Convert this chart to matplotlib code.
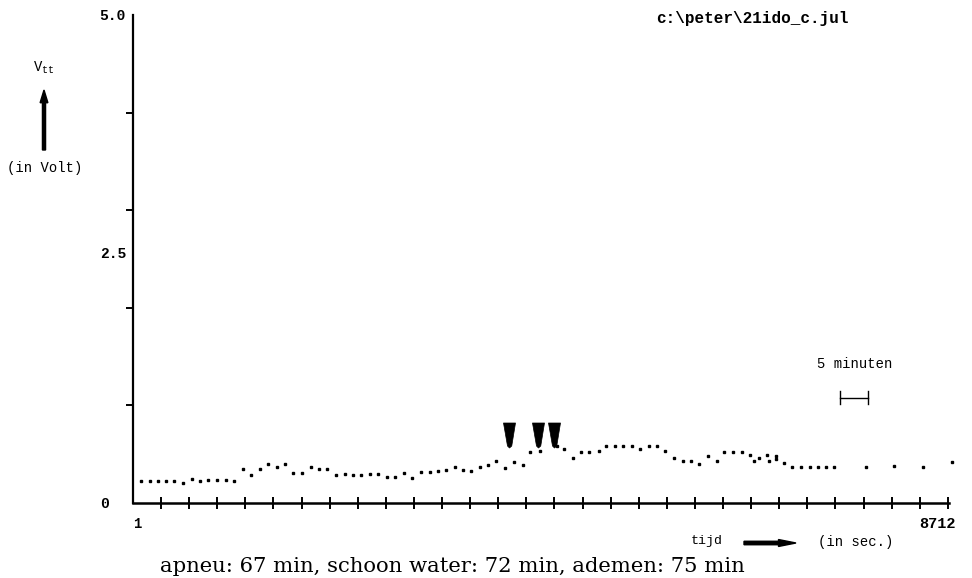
import numpy as np
import matplotlib
matplotlib.use("Agg")
import matplotlib.pyplot as plt
from matplotlib.path import Path
from matplotlib.transforms import ScaledTranslation

# Measured voltage (V) against time (s)
time_s = [90, 179, 265, 356, 442, 535, 628, 719, 805, 898, 991, 1079, 1175, 1264,
          1357, 1442, 1535, 1627, 1712, 1805, 1898, 1983, 2075, 2168, 2267, 2346,
          2438, 2531, 2616, 2709, 2801, 2894, 2983, 3075, 3168, 3254, 3339, 3438,
          3524, 3609, 3702, 3794, 3879, 3972, 4065, 4164, 4242, 4343, 4524, 4602,
          4695, 4780, 4872, 4972, 5050, 5143, 5235, 5328, 5413, 5506, 5598, 5683,
          5776, 5869, 5954, 6046, 6136, 6232, 6313, 6409, 6499, 6587, 6630, 6684,
          6774, 6794, 6865, 6866, 6950, 7039, 7132, 7223, 7313, 7404, 7484, 7826,
          8125, 8437, 8741]
volt = [0.225, 0.225, 0.225, 0.225, 0.225, 0.208, 0.243, 0.225, 0.239, 0.239, 0.239,
        0.222, 0.351, 0.290, 0.351, 0.400, 0.366, 0.400, 0.304, 0.304, 0.366, 0.348,
        0.348, 0.284, 0.300, 0.287, 0.284, 0.297, 0.300, 0.269, 0.269, 0.304, 0.256,
        0.318, 0.318, 0.328, 0.338, 0.369, 0.338, 0.328, 0.369, 0.394, 0.430, 0.359,
        0.415, 0.389, 0.519, 0.533, 0.579, 0.553, 0.458, 0.519, 0.519, 0.533, 0.587,
        0.587, 0.587, 0.587, 0.553, 0.587, 0.587, 0.536, 0.464, 0.430, 0.430, 0.400,
        0.485, 0.430, 0.526, 0.526, 0.526, 0.487, 0.430, 0.464, 0.487, 0.430, 0.485,
        0.450, 0.407, 0.372, 0.372, 0.372, 0.372, 0.372, 0.372, 0.369, 0.382, 0.366,
        0.415]

# Events (minutes): apneu, schoon water, ademen
event_min = [67, 72, 75]
caption = "apneu: 67 min, schoon water: 72 min, ademen: 75 min"

t_start, t_end = 1, 8712
v_max = 5.0
ytick_labels = ["0", "2.5", "5.0"]
xtick_step = 300          # seconds between tick crosses
scale_bar_s = 300         # 5 minutes
scale_bar_start = 7550

mono = "Liberation Mono"

fig = plt.figure(figsize=(9.72, 5.78), dpi=100)
ax = fig.add_axes([133 / 972, 75 / 578, 816 / 972, 488 / 578])
ax.set_xlim(t_start, t_end)
ax.set_ylim(0, v_max)

for s in ("top", "right"):
    ax.spines[s].set_visible(False)
ax.spines["left"].set_linewidth(1.6)
ax.spines["bottom"].set_linewidth(1.8)

# y axis: labels at 0, 2.5, 5.0 and small ticks every volt
ax.set_yticks([0, 2.5, 5.0])
ax.set_yticklabels(ytick_labels, fontfamily=mono, fontweight="bold", fontsize=10.5,
                   ha="left")
ax.tick_params(axis="y", which="major", length=0, pad=24)
ax.set_yticks(np.arange(0, 6), minor=True)
ax.tick_params(axis="y", which="minor", length=5, width=1.4, direction="out")
lbl = ax.get_yticklabels()[1]
lbl.set_transform(lbl.get_transform() + ScaledTranslation(0, 5 / 72, fig.dpi_scale_trans))

# x axis: crosses every 300 s, labels only at the ends
ax.set_xticks(np.arange(xtick_step, t_end, xtick_step))
ax.set_xticklabels([])
ax.tick_params(axis="x", which="major", length=9, width=1.4, direction="inout")
ax.text(t_start, -0.14, str(t_start), transform=ax.transData, ha="left", va="top",
        fontfamily=mono, fontweight="bold", fontsize=10, clip_on=False)
ax.text(t_end, -0.14, str(t_end),
        transform=ax.transData + ScaledTranslation(5 / 72, 0, fig.dpi_scale_trans),
        ha="right", va="top", fontfamily=mono, fontweight="bold", fontsize=11,
        clip_on=False)

# data points
ax.plot(time_s, volt, linestyle="none", marker="s", markersize=1.9,
        color="black", clip_on=False)

# event markers: tapered wedges pointing down
wedge = Path([(-0.24, 0.5), (0.24, 0.5), (0.09, -0.42), (0.0, -0.5),
              (-0.08, -0.42), (-0.24, 0.5)],
             [Path.MOVETO, Path.LINETO, Path.LINETO, Path.LINETO,
              Path.LINETO, Path.CLOSEPOLY])
event_t = [m * 60 for m in event_min]
ax.plot(event_t, [0.70] * len(event_t), linestyle="none", marker=wedge,
        markersize=18, color="black", markeredgewidth=0.5)

# scale bar for 5 minutes
bar_y = 1.08
ax.plot([scale_bar_start, scale_bar_start + scale_bar_s], [bar_y, bar_y],
        color="black", lw=1.0)
for xb in (scale_bar_start, scale_bar_start + scale_bar_s):
    ax.plot([xb, xb], [bar_y - 0.07, bar_y + 0.07], color="black", lw=1.0)
ax.text(scale_bar_start + scale_bar_s / 2, 1.42, "5 minuten", ha="center",
        va="center", fontfamily=mono, fontsize=10)

# file name
fig.text(752 / 972, 1 - 18 / 578, "c:\\peter\\21ido_c.jul", ha="center",
         va="center", fontfamily=mono, fontweight="bold", fontsize=11.5)

# y-axis label with arrow
fig.text(44 / 972, 1 - 68 / 578, r"V$_{\mathregular{tt}}$", ha="center",
         va="center", fontfamily=mono, fontsize=10)
fig.patches.append(matplotlib.patches.FancyArrow(
    44 / 972, 1 - 150 / 578, 0, 60 / 578, width=0.0032, head_width=0.008,
    head_length=0.022, color="black", transform=fig.transFigure,
    length_includes_head=True))
fig.text(45 / 972, 1 - 168 / 578, "(in Volt)", ha="center", va="center",
         fontfamily=mono, fontsize=10)

# x-axis label with arrow
fig.text(707 / 972, 1 - 541 / 578, "tijd", ha="center", va="center",
         fontfamily=mono, fontsize=9.5)
fig.patches.append(matplotlib.patches.FancyArrow(
    744 / 972, 1 - 543 / 578, 52 / 972, 0, width=0.006, head_width=0.012,
    head_length=0.018, color="black", transform=fig.transFigure,
    length_includes_head=True))
fig.text(856 / 972, 1 - 542 / 578, "(in sec.)", ha="center", va="center",
         fontfamily=mono, fontsize=10)

# caption
fig.text(160 / 972, 1 - 566 / 578, caption, ha="left", va="center",
         fontfamily="DejaVu Serif", fontsize=15.2)

fig.savefig("out.png", dpi=100)
